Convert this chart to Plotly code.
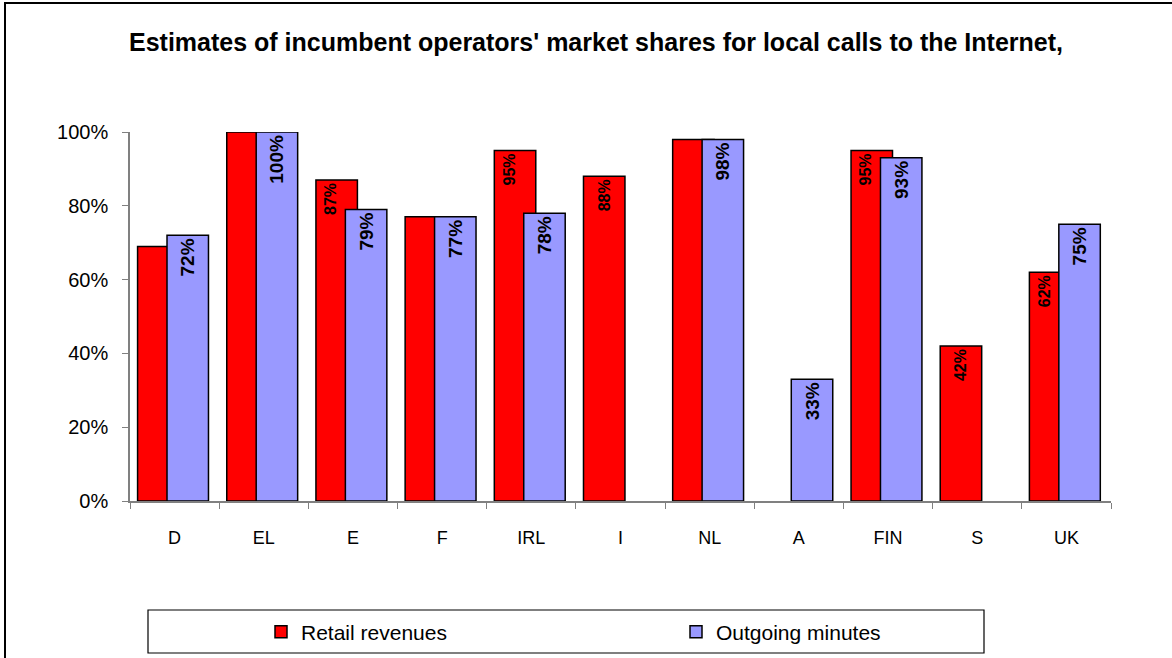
import plotly.graph_objects as go

categories = ["D", "EL", "E", "F", "IRL", "I", "NL", "A", "FIN", "S", "UK"]
retail_revenues = [0.69, 1.00, 0.87, 0.77, 0.95, 0.88, 0.98, None, 0.95, 0.42, 0.62]
outgoing_minutes = [0.72, 1.00, 0.79, 0.77, 0.78, None, 0.98, 0.33, 0.93, None, 0.75]
retail_labels = ["", "", "87%", "", "95%", "88%", "", "", "95%", "42%", "62%"]
outgoing_labels = ["72%", "100%", "79%", "77%", "78%", "", "98%", "33%", "93%", "", "75%"]
y_ticks = [0, 0.2, 0.4, 0.6, 0.8, 1.0]
y_tick_labels = ["0%", "20%", "40%", "60%", "80%", "100%"]

FONT = "Liberation Sans, Arial, sans-serif"
RED = "#FF0000"
BLUE = "#9999FF"

L, R, T, B = 130, 61, 132, 157
W, H = 1172, 658
PW, PH = W - L - R, H - T - B


def px_x(p):
    return (p - L) / PW


def px_y(p):
    return (H - B - p) / PH


red_off = -0.415
blue_off = -0.085
bar_w = 0.465
# visible part of the red bar when the blue bar overlaps it
red_label_w = [(blue_off - red_off) if o is not None else bar_w for o in outgoing_minutes]

fig = go.Figure()
fig.add_trace(go.Bar(
    x=categories, y=retail_revenues, name="Retail revenues",
    offset=red_off, width=bar_w,
    marker=dict(color=RED, line=dict(color="black", width=1.5)),
    hoverinfo="skip",
))
fig.add_trace(go.Bar(
    x=categories, y=retail_revenues, showlegend=False,
    offset=red_off, width=red_label_w,
    marker=dict(color="rgba(0,0,0,0)", line=dict(width=0)),
    text=retail_labels, textposition="inside", textangle=-90,
    insidetextanchor="end",
    textfont=dict(family=FONT, size=16, color="black", weight="bold"),
    hoverinfo="skip",
))
fig.add_trace(go.Bar(
    x=categories, y=outgoing_minutes, name="Outgoing minutes",
    offset=blue_off, width=bar_w,
    marker=dict(color=BLUE, line=dict(color="black", width=1.5)),
    text=outgoing_labels, textposition="inside", textangle=-90,
    insidetextanchor="end",
    textfont=dict(family=FONT, size=19, color="black", weight="bold"),
    hoverinfo="skip",
))

fig.update_layout(
    width=W, height=H,
    margin=dict(l=L, r=R, t=T, b=B, autoexpand=False),
    barmode="overlay",
    plot_bgcolor="white", paper_bgcolor="white",
    font=dict(family=FONT, size=19, color="black"),
    title=dict(
        text="<b>Estimates of incumbent operators' market shares for local calls to the Internet,</b>",
        x=px_x(596), xref="paper", xanchor="center",
        y=1 - 42 / H, yref="container", yanchor="middle",
        font=dict(family=FONT, size=25, color="black"),
    ),
    xaxis=dict(
        type="category", categoryorder="array", categoryarray=categories,
        range=[-0.5, len(categories) - 0.5],
        showline=True, linecolor="#808080", linewidth=1.5,
        ticks="outside", tickson="boundaries", ticklen=6, tickcolor="#808080",
        tickfont=dict(family=FONT, size=18, color="black"),
        ticklabelstandoff=20,
        showgrid=False, zeroline=False,
    ),
    yaxis=dict(
        range=[0, 1], tickvals=y_ticks, ticktext=y_tick_labels,
        showline=True, linecolor="#808080", linewidth=1.5,
        ticks="outside", ticklen=6, tickcolor="#808080",
        tickfont=dict(family=FONT, size=20, color="black"),
        ticklabelstandoff=10,
        showgrid=False, zeroline=False,
    ),
    legend=dict(
        orientation="h", x=px_x(261), xanchor="left",
        y=px_y(632), yanchor="middle",
        entrywidth=370, entrywidthmode="pixels",
        font=dict(family=FONT, size=21, color="black"),
        bgcolor="rgba(0,0,0,0)", borderwidth=0,
        traceorder="normal",
    ),
    shapes=[
        dict(type="rect", xref="paper", yref="paper",
             x0=px_x(5), x1=px_x(1185), y0=px_y(3), y1=px_y(680),
             line=dict(color="black", width=2), fillcolor="rgba(0,0,0,0)"),
        dict(type="rect", xref="paper", yref="paper",
             x0=px_x(148), x1=px_x(984), y0=px_y(610), y1=px_y(653),
             line=dict(color="black", width=1.2), fillcolor="rgba(0,0,0,0)"),
    ],
)

fig.write_html("out.html", config={"displayModeBar": False},
               post_script="document.body.style.margin='0';")
